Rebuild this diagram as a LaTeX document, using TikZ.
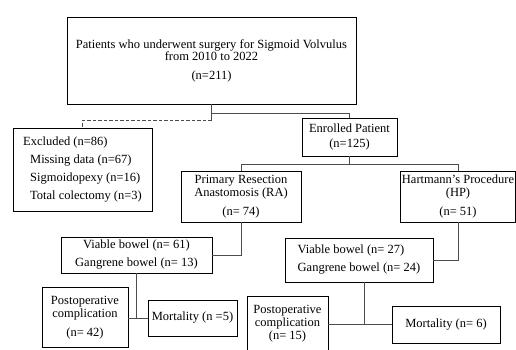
\documentclass[tikz,border=0pt]{standalone}
\usepackage{fontspec}
\setmainfont{Liberation Serif}
\usetikzlibrary{calc}
\newcommand{\fsa}{\fontsize{12.5}{12.5}\selectfont}
\begin{document}
\begin{tikzpicture}[x=1pt,y=-1pt,
  box/.style={draw=black, line width=0.9pt, inner sep=0pt, align=center, font=\fsa},
  conn/.style={draw=black!70, line width=0.9pt}]
\useasboundingbox (0,0) rectangle (516,349);
% boxes
\node[box, minimum width=289, minimum height=87] (top) at (211.5,60.5)
  {Patients who underwent surgery for Sigmoid Volvulus\\from 2010 to 2022\\[6pt](n=211)};
\node[box, align=left, minimum width=139, minimum height=83,
  font=\fontsize{12.5}{18.3}\selectfont] (excl) at (82.5,169.5)
  {Excluded (n=86)\\\hspace*{7pt}Missing data (n=67)\\\hspace*{7pt}Sigmoidopexy (n=16)\\\hspace*{7pt}Total colectomy (n=3)};
\node[box, minimum width=95, minimum height=37.5] (enr) at (349.5,137.25)
  {Enrolled Patient\\[2.5pt](n=125)};
\node[box, minimum width=120, minimum height=51] (ra) at (241,196.5)
  {Primary Resection\\Anastomosis (RA)\\[6.5pt](n= 74)};
\node[box, minimum width=115, minimum height=51] (hp) at (458,196.5)
  {Hartmann's Procedure\\(HP)\\[6.5pt](n= 51)};
\node[box, minimum width=151, minimum height=36] (vra) at (136.5,255)
  {Viable bowel (n= 61)\\[5.5pt]Gangrene bowel (n= 13)};
\node[box, align=left, minimum width=148, minimum height=44] (vhp) at (359,260)
  {Viable bowel (n= 27)\\[5.5pt]Gangrene bowel (n= 24)};
\node[box, minimum width=86, minimum height=60] (pra) at (85,317.5)
  {Postoperative\\complication\\[6.5pt](n= 42)};
\node[box, minimum width=89, minimum height=36] (mra) at (192.5,318)
  {Mortality (n =5)};
\node[box, minimum width=81, minimum height=56, font=\fontsize{12.5}{13}\selectfont] (php) at (287.5,324)
  {Postoperative\\complication\\(n= 15)};
\node[box, minimum width=108, minimum height=37] (mhp) at (446,324.5)
  {Mortality (n= 6)};
% connectors
\coordinate (j1) at ($(top.south)+(0,9)$);
\coordinate (j2) at ($(top.south)+(0,16)$);
\draw[conn] (top.south) -- (j2);
\draw[conn] (j1) -| (enr.north);
\draw[conn, dash pattern=on 3.5pt off 2pt] (j2) -| (excl.north);
\coordinate (j3) at ($(enr.south)+(0,8)$);
\draw[conn] (enr.south) -- (j3);
\draw[conn] (ra.north) |- (j3) -| (hp.north);
\draw[conn] (ra.south) |- (vra.east);
\draw[conn] (hp.south) |- (vhp.east);
\coordinate (j4) at (vra.south |- mra.west);
\draw[conn] (vra.south) -- (j4);
\draw[conn] (pra.east |- mra.west) -- (mra.west);
\coordinate (j5) at ([xshift=5pt]vhp.south);
\coordinate (j6) at (j5 |- mhp.west);
\draw[conn] (j5) -- (j6);
\draw[conn] (php.east |- mhp.west) -- (mhp.west);
\end{tikzpicture}
\end{document}
